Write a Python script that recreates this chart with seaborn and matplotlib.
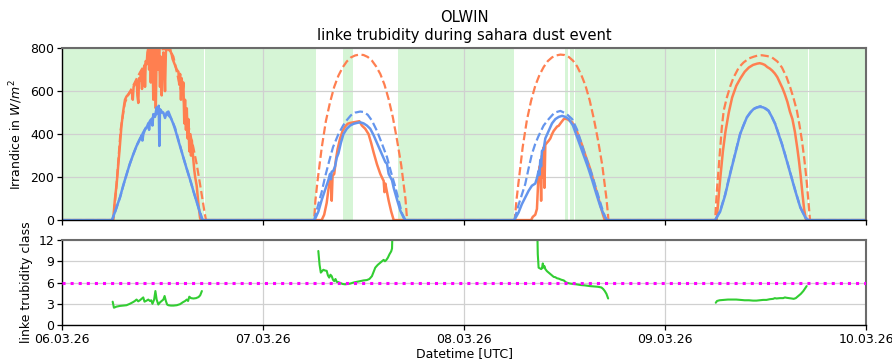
import numpy as np
import pandas as pd
import matplotlib
matplotlib.use("Agg")
import matplotlib.pyplot as plt
import matplotlib.dates as mdates
import seaborn as sns

# ---------------- data (hour of day, value) ----------------
START = pd.Timestamp("2026-03-06 00:00")
day_labels = ["06.03.26", "07.03.26", "08.03.26", "09.03.26", "10.03.26"]

# measured GHI (W/m^2)
ghi_meas_d1 = [(0.0, 0), (6.0, 0), (6.13, 10), (6.3, 90), (6.53, 170), (6.75, 270), (6.92, 350), (7.1, 440),
               (7.32, 510), (7.52, 560), (7.7, 575), (7.92, 585), (8.1, 595), (8.32, 600), (8.45, 560),
               (8.55, 620), (8.72, 635), (8.92, 650), (9.0, 580), (9.11, 545), (9.2, 660), (9.31, 650),
               (9.45, 690), (9.55, 610), (9.71, 700), (9.85, 720), (9.91, 620), (10.0, 740), (10.11, 725),
               (10.2, 780), (10.31, 800), (10.4, 700), (10.51, 800), (10.6, 640), (10.7, 800), (10.8, 800),
               (10.9, 560), (11.0, 800), (11.1, 760), (11.2, 520), (11.3, 800), (11.4, 800), (11.5, 700),
               (11.6, 800), (11.7, 620), (11.8, 760), (11.9, 580), (12.0, 700), (12.1, 780), (12.2, 740),
               (12.3, 600), (12.4, 780), (12.5, 800), (12.6, 800), (12.7, 800), (12.8, 790), (12.9, 800),
               (13.0, 780), (13.1, 770), (13.2, 750), (13.3, 740), (13.5, 720), (13.7, 700), (13.9, 690),
               (14.0, 630), (14.1, 680), (14.2, 560), (14.29, 660), (14.4, 600), (14.49, 640), (14.6, 450),
               (14.69, 560), (14.8, 420), (14.9, 520), (15.0, 380), (15.09, 470), (15.2, 320), (15.28, 400),
               (15.4, 300), (15.5, 370), (15.68, 280), (15.8, 230), (15.9, 200), (16.08, 160), (16.2, 110),
               (16.3, 70), (16.48, 10), (16.6, 0), (24.0, 0)]
ghi_meas_d2 = [(7.0, 0), (7.3, 25), (7.6, 80), (7.8, 140), (8.0, 190), (8.1, 200), (8.2, 90), (8.3, 205),
               (8.5, 215), (8.7, 280), (8.9, 330), (9.2, 380), (9.5, 415), (9.8, 435), (10.1, 448),
               (10.4, 452), (10.8, 455), (11.2, 458), (11.5, 460), (11.8, 440), (12.2, 425), (12.6, 400),
               (12.9, 360), (13.2, 315), (13.6, 260), (14.0, 215), (14.3, 190), (14.4, 183), (14.5, 130),
               (14.6, 170), (14.8, 130), (15.0, 90), (15.3, 40), (15.6, 0), (24.0, 0)]
ghi_meas_d3 = [(8.0, 0), (8.2, 15), (8.5, 25), (8.7, 52), (8.85, 180), (9.0, 250), (9.1, 245), (9.2, 90),
               (9.3, 300), (9.4, 200), (9.5, 338), (9.6, 150), (9.7, 350), (9.9, 360), (10.1, 369),
               (10.3, 380), (10.5, 400), (10.7, 415), (10.9, 425), (11.1, 435), (11.3, 439), (11.6, 455),
               (11.9, 470), (12.1, 472), (12.4, 468), (12.9, 455), (13.4, 420), (14.05, 353), (14.5, 300),
               (15.0, 245), (15.4, 190), (15.8, 136), (16.2, 80), (16.6, 23), (16.8, 0), (24.0, 0)]
ghi_meas_d4 = [(6.15, 0), (6.4, 110), (6.6, 200), (6.9, 320), (7.2, 410), (7.6, 500), (8.0, 570), (8.5, 625),
               (9.0, 660), (9.5, 690), (10.0, 710), (10.5, 722), (11.0, 728), (11.3, 730), (11.6, 727),
               (11.9, 722), (12.2, 712), (12.5, 705), (12.8, 695), (13.1, 682), (13.4, 665), (13.7, 640),
               (14.0, 615), (14.3, 585), (14.6, 550), (14.9, 505), (15.2, 470), (15.5, 410), (15.8, 330),
               (16.0, 270), (16.2, 200), (16.4, 121), (16.6, 50), (16.8, 5), (17.0, 0), (24.0, 0)]

# clear-sky GHI (W/m^2)
ghi_cs_d1 = [(0.0, 0), (6.13, 0), (6.5, 160), (7.0, 420), (7.5, 545), (8.0, 590), (8.5, 625), (9.0, 665),
             (9.5, 700), (10.0, 730), (10.5, 755), (11.0, 775), (11.5, 790), (12.0, 795), (12.5, 795),
             (12.9, 790), (13.3, 760), (13.7, 690), (14.1, 620), (14.49, 565), (14.8, 500), (15.09, 440),
             (15.4, 385), (15.68, 338), (16.08, 260), (16.48, 167), (16.8, 90), (17.0, 40), (17.19, 0),
             (24.0, 0)]
ghi_cs_d2 = [(6.1, 0), (6.25, 90), (6.5, 180), (7.0, 335), (7.5, 460), (8.0, 548), (8.5, 620), (9.0, 672),
             (9.5, 710), (10.0, 738), (10.5, 757), (11.0, 766), (11.5, 770), (12.0, 768), (12.5, 759),
             (13.0, 742), (13.5, 715), (14.0, 680), (14.5, 630), (15.0, 562), (15.5, 478), (16.0, 372),
             (16.5, 255), (17.0, 100), (17.2, 0), (24.0, 0)]
ghi_cs_d3 = [(6.05, 0), (6.25, 90), (6.5, 175), (7.0, 340), (7.5, 465), (8.0, 555), (8.5, 625), (9.0, 675),
             (9.5, 712), (10.0, 740), (10.5, 757), (11.0, 766), (11.5, 770), (12.0, 768), (12.5, 759),
             (13.0, 742), (13.5, 715), (14.0, 675), (14.5, 625), (15.0, 557), (15.5, 470), (16.0, 370),
             (16.5, 255), (17.0, 100), (17.24, 0), (24.0, 0)]
ghi_cs_d4 = [(5.97, 0), (6.15, 120), (6.37, 229), (6.77, 431), (7.0, 510), (7.37, 570), (7.8, 625),
             (8.17, 663), (8.8, 710), (9.36, 733), (10.0, 752), (10.56, 760), (11.0, 765), (11.55, 767),
             (12.2, 763), (12.75, 757), (13.4, 738), (13.95, 710), (14.5, 665), (14.94, 617), (15.35, 565),
             (15.74, 508), (16.05, 440), (16.34, 369), (16.6, 290), (16.86, 198), (17.14, 74), (17.3, 0),
             (24.0, 0)]

# measured DHI (W/m^2)
dhi_meas_d1 = [(0.0, 0), (5.95, 0), (6.3, 35), (6.6, 70), (6.92, 105), (7.3, 160), (7.72, 214), (8.1, 262),
               (8.52, 307), (8.9, 345), (9.1, 360), (9.31, 377), (9.5, 395), (9.6, 370), (9.71, 400),
               (9.9, 420), (10.11, 431), (10.3, 450), (10.4, 420), (10.51, 462), (10.7, 470), (10.8, 440),
               (10.9, 493), (11.1, 480), (11.3, 524), (11.45, 500), (11.55, 532), (11.62, 345), (11.7, 516),
               (11.9, 505), (12.1, 500), (12.3, 475), (12.5, 500), (12.7, 505), (12.9, 485), (13.1, 465),
               (13.3, 446), (13.6, 410), (13.9, 369), (14.2, 330), (14.49, 291), (14.8, 250), (15.09, 214),
               (15.4, 175), (15.68, 136), (16.0, 95), (16.28, 59), (16.5, 30), (16.7, 5), (16.8, 0),
               (24.0, 0)]
dhi_meas_d2 = [(6.15, 0), (6.6, 39), (7.0, 93), (7.4, 140), (7.8, 186), (8.0, 215), (8.1, 190), (8.2, 225),
               (8.4, 230), (8.6, 250), (8.8, 290), (9.0, 310), (9.3, 360), (9.6, 400), (10.0, 425),
               (10.4, 440), (10.8, 448), (11.2, 452), (11.6, 455), (12.0, 450), (12.4, 440), (12.8, 425),
               (13.2, 395), (13.7, 350), (14.2, 305), (14.6, 270), (14.8, 262), (15.0, 215), (15.2, 200),
               (15.4, 185), (15.6, 150), (16.0, 95), (16.4, 43), (16.8, 10), (17.0, 0), (24.0, 0)]
dhi_meas_d3 = [(6.0, 0), (6.5, 35), (6.9, 74), (7.3, 105), (7.7, 136), (8.1, 160), (8.5, 170), (8.7, 195),
               (8.9, 229), (9.0, 210), (9.1, 280), (9.2, 250), (9.3, 322), (9.5, 330), (9.7, 380), (10.1, 415),
               (10.5, 450), (10.9, 470), (11.3, 480), (11.7, 485), (12.1, 480), (12.5, 470), (13.0, 440),
               (13.65, 369), (14.2, 310), (14.8, 245), (15.3, 185), (15.8, 121), (16.3, 60), (16.8, 15),
               (17.1, 0), (24.0, 0)]
dhi_meas_d4 = [(5.97, 0), (6.57, 39), (7.17, 116), (7.76, 214), (8.36, 307), (8.96, 400), (9.35, 440),
               (9.75, 477), (10.15, 500), (10.55, 516), (10.95, 524), (11.35, 527), (11.75, 524),
               (12.35, 508), (12.75, 480), (13.15, 446), (13.55, 400), (13.95, 353), (14.35, 300),
               (14.75, 245), (15.15, 190), (15.54, 136), (16.14, 59), (16.74, 12), (17.1, 0), (24.0, 0)]

# clear-sky DHI (W/m^2)
dhi_cs_d1 = [(0.0, 0), (6.0, 0), (6.5, 55), (7.0, 115), (7.5, 185), (8.0, 250), (8.5, 305), (9.0, 355),
             (9.5, 395), (10.0, 430), (10.5, 460), (11.0, 485), (11.5, 498), (12.0, 500), (12.5, 495),
             (13.0, 475), (13.5, 430), (14.0, 360), (14.5, 290), (15.0, 225), (15.5, 160), (16.0, 95),
             (16.5, 35), (16.8, 0), (24.0, 0)]
dhi_cs_d2 = [(6.1, 0), (6.5, 60), (7.0, 130), (7.4, 200), (7.9, 275), (8.36, 340), (9.0, 400), (9.55, 439),
             (10.0, 465), (10.5, 488), (11.0, 500), (11.6, 505), (12.0, 503), (12.5, 490), (13.0, 463),
             (13.6, 415), (14.2, 355), (14.8, 293), (15.3, 220), (15.8, 153), (16.2, 90), (16.6, 30),
             (17.0, 0), (24.0, 0)]
dhi_cs_d3 = [(6.0, 0), (6.5, 70), (7.3, 167), (7.7, 240), (8.1, 307), (8.5, 355), (8.9, 392), (9.5, 440),
             (10.1, 470), (10.8, 500), (11.5, 508), (12.2, 495), (12.9, 470), (13.5, 420), (14.05, 353),
             (14.6, 285), (15.25, 214), (15.7, 155), (16.2, 90), (16.6, 40), (17.0, 0), (24.0, 0)]
dhi_cs_d4 = [(5.97, 0), (6.57, 42), (7.17, 120), (7.76, 218), (8.36, 310), (8.96, 402), (9.75, 478),
             (10.55, 518), (11.35, 530), (11.75, 527), (12.35, 510), (13.15, 448), (13.95, 355),
             (14.75, 248), (15.54, 138), (16.14, 60), (16.74, 12), (17.1, 0), (24.0, 0)]

# linke turbidity class
lt_d1 = [(6.05, 3.3), (6.2, 2.45), (6.5, 2.6), (6.9, 2.7), (7.3, 2.75), (7.7, 2.8), (8.1, 3.0), (8.5, 3.25),
         (8.7, 3.4), (8.9, 3.6), (9.1, 3.35), (9.3, 3.5), (9.5, 3.7), (9.7, 3.9), (9.85, 3.3), (10.1, 3.45),
         (10.3, 3.6), (10.5, 3.4), (10.65, 3.5), (10.8, 3.0), (11.0, 3.6), (11.15, 4.8), (11.3, 3.6),
         (11.5, 2.9), (11.7, 3.2), (11.9, 3.4), (12.1, 3.6), (12.25, 4.1), (12.4, 3.4), (12.55, 2.9),
         (12.7, 2.8), (13.0, 2.75), (13.3, 2.75), (13.7, 2.8), (14.1, 2.95), (14.4, 3.2), (14.7, 3.4),
         (14.9, 3.6), (15.05, 3.4), (15.2, 4.0), (15.4, 3.8), (15.7, 3.75), (16.0, 3.8), (16.3, 3.95),
         (16.5, 4.2), (16.7, 4.8)]
lt_d2 = [(6.6, 10.45), (6.75, 8.5), (6.9, 7.4), (7.05, 7.6), (7.2, 7.8), (7.4, 7.7), (7.6, 7.65), (7.75, 7.0),
         (7.9, 6.7), (8.05, 7.1), (8.2, 6.9), (8.35, 6.4), (8.5, 6.2), (8.65, 6.5), (8.8, 6.1), (9.0, 6.05),
         (9.2, 5.95), (9.5, 5.8), (9.8, 5.75), (10.1, 5.8), (10.4, 5.85), (10.8, 6.0), (11.2, 6.1),
         (11.6, 6.2), (12.0, 6.3), (12.4, 6.35), (12.7, 6.5), (13.0, 6.9), (13.2, 7.5), (13.4, 8.1),
         (13.7, 8.5), (14.0, 8.8), (14.2, 9.0), (14.4, 9.2), (14.55, 9.0), (14.7, 9.15), (14.9, 9.5),
         (15.1, 10.0), (15.3, 10.4), (15.4, 10.8), (15.45, 13.0)]
lt_d3 = [(8.75, 13.0), (8.8, 10.0), (8.9, 8.1), (9.05, 8.0), (9.2, 7.9), (9.3, 8.0), (9.4, 8.7), (9.5, 8.1),
         (9.6, 8.3), (9.7, 7.9), (9.9, 7.6), (10.1, 7.4), (10.3, 7.2), (10.5, 7.0), (10.7, 6.8), (10.9, 6.75),
         (11.1, 6.6), (11.3, 6.55), (11.6, 6.4), (11.9, 6.3), (12.2, 6.0), (12.5, 5.9), (12.7, 5.85),
         (13.0, 5.8), (13.4, 5.75), (13.9, 5.65), (14.4, 5.6), (15.0, 5.5), (15.5, 5.45), (16.0, 5.4),
         (16.4, 5.3), (16.6, 5.1), (16.8, 4.8), (17.0, 4.4), (17.2, 3.75)]
lt_d4 = [(6.05, 3.15), (6.2, 3.4), (6.5, 3.5), (7.0, 3.55), (7.5, 3.6), (8.0, 3.6), (8.5, 3.6), (9.0, 3.55),
         (9.5, 3.5), (10.0, 3.5), (10.5, 3.45), (10.9, 3.45), (11.3, 3.5), (11.7, 3.55), (12.1, 3.55),
         (12.5, 3.65), (12.9, 3.7), (13.1, 3.8), (13.3, 3.75), (13.7, 3.8), (14.1, 3.8), (14.3, 3.9),
         (14.5, 3.85), (14.8, 3.8), (15.1, 3.75), (15.35, 3.7), (15.6, 3.8), (15.9, 4.1), (16.2, 4.4),
         (16.5, 4.8), (16.9, 5.5)]
lt_limit = 6

# shaded periods (hours since 06.03.26 00:00)
shade_start = [0.0, 11.52, 17.02, 30.75, 33.55, 40.12, 60.06, 60.6, 61.25, 78.03, 89.13]
shade_end = [11.45, 16.96, 30.33, 30.85, 34.75, 53.97, 60.42, 61.15, 77.97, 89.07, 96.0]


def series(days):
    t, v = [], []
    for d, pts in enumerate(days):
        if pts is None:
            continue
        for h, val in pts:
            t.append(START + pd.Timedelta(hours=24 * d + h))
            v.append(val)
    return pd.DataFrame({"time": t, "value": v})


# ---------------- figure ----------------
sns.set_style("whitegrid")
plt.rcParams["font.family"] = ["DejaVu Sans"]
plt.rcParams["text.color"] = "black"
plt.rcParams["axes.labelcolor"] = "black"
plt.rcParams["xtick.color"] = "black"
plt.rcParams["ytick.color"] = "black"

fig = plt.figure(figsize=(8.92, 3.62), dpi=100)
ax1 = fig.add_axes([0.0695, 0.392, 0.9015, 0.475])
ax2 = fig.add_axes([0.0695, 0.102, 0.9015, 0.235], sharex=ax1)

for s, e in zip(shade_start, shade_end):
    ax1.axvspan(START + pd.Timedelta(hours=s), START + pd.Timedelta(hours=e),
                color="limegreen", alpha=0.2, lw=0, zorder=0)

ORANGE = "coral"
BLUE = "cornflowerblue"

df = series([ghi_meas_d1, ghi_meas_d2, ghi_meas_d3, ghi_meas_d4])
sns.lineplot(data=df, x="time", y="value", ax=ax1, color=ORANGE, lw=1.8, estimator=None, sort=False)
df = series([ghi_cs_d1, ghi_cs_d2, ghi_cs_d3, ghi_cs_d4])
sns.lineplot(data=df, x="time", y="value", ax=ax1, color=ORANGE, lw=1.6, ls="--", estimator=None, sort=False)
df = series([dhi_meas_d1, dhi_meas_d2, dhi_meas_d3, dhi_meas_d4])
sns.lineplot(data=df, x="time", y="value", ax=ax1, color=BLUE, lw=1.8, estimator=None, sort=False)
df = series([dhi_cs_d1, dhi_cs_d2, dhi_cs_d3, dhi_cs_d4])
sns.lineplot(data=df, x="time", y="value", ax=ax1, color=BLUE, lw=1.6, ls="--", estimator=None, sort=False)

for d, pts in enumerate([lt_d1, lt_d2, lt_d3, lt_d4]):
    days = [None] * 4
    days[d] = pts
    df = series(days)
    sns.lineplot(data=df, x="time", y="value", ax=ax2, color="limegreen", lw=1.5, estimator=None, sort=False)
ax2.axhline(lt_limit, color="magenta", ls=":", lw=2.2, zorder=3)

ax1.set_ylim(0, 800)
ax1.set_yticks([0, 200, 400, 600, 800])
ax2.set_ylim(0, 12)
ax2.set_yticks([0, 3, 6, 9, 12])
ax1.set_xlim(START, START + pd.Timedelta(days=4))
ax2.xaxis.set_major_locator(mdates.DayLocator())
ax2.xaxis.set_major_formatter(mdates.DateFormatter("%d.%m.%y"))

ax1.set_title("OLWIN\nlinke trubidity during sahara dust event", fontsize=10.6, color="black")
ax1.set_ylabel("Irrandice in $W/m^2$", fontsize=9)
ax1.set_xlabel("")
ax2.set_ylabel("linke trubidity class", fontsize=9)
ax2.set_xlabel("Datetime [UTC]", fontsize=9, labelpad=1)
plt.setp(ax1.get_xticklabels(), visible=False)

for ax in (ax1, ax2):
    ax.set_axisbelow(True)
    ax.grid(True, color="#d0d0d0", lw=0.9)
    ax.tick_params(axis="both", which="major", labelsize=9, bottom=True, left=True,
                   length=3.5, width=0.9, color="black", labelcolor="black", pad=2)
    for side in ("left", "bottom"):
        ax.spines[side].set_color("black")
        ax.spines[side].set_linewidth(1.0)
    for side in ("top", "right"):
        ax.spines[side].set_color("#6b6b6b")
        ax.spines[side].set_linewidth(1.5)

fig.savefig("out.png", dpi=100)
